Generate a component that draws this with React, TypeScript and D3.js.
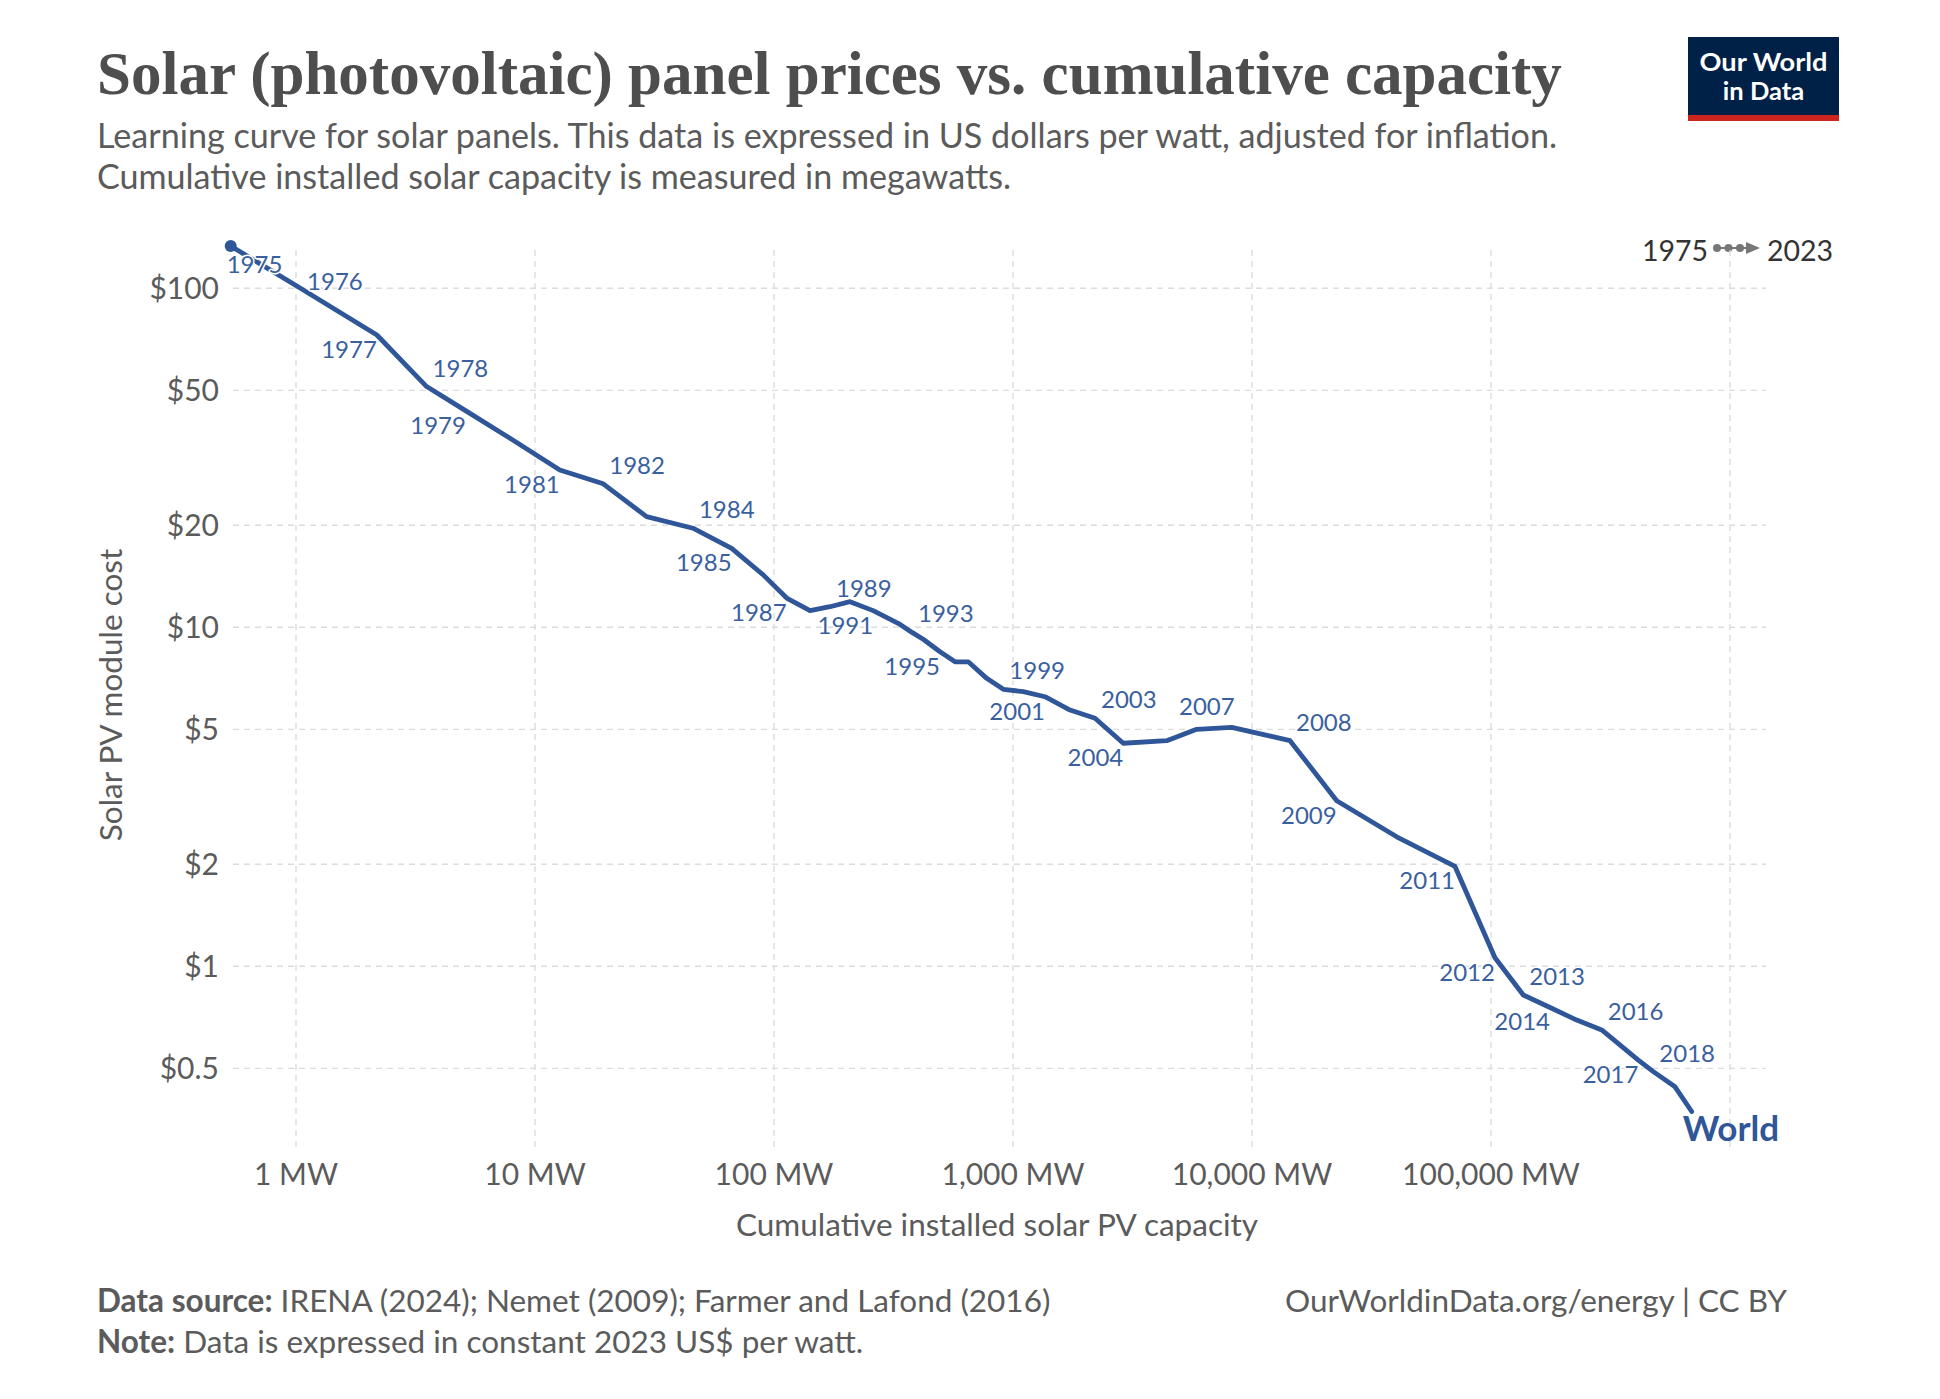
import React, { useLayoutEffect, useRef, useState } from "react";
import * as d3 from "d3";

const years = [1975,1976,1977,1978,1979,1980,1981,1982,1983,1984,1985,1986,1987,1988,1989,1990,1991,1992,1993,1994,1995,1996,1997,1998,1999,2000,2001,2002,2003,2004,2005,2006,2007,2008,2009,2010,2011,2012,2013,2014,2015,2016,2017,2018,2019,2020];
const capacityMW = [0.533,1.04,2.18,3.52,5.14,7.86,12.7,19.3,29.3,45.8,66.5,89.9,113,141.5,171.5,208,260,337,378,421,495,572,650,776,911,1104,1361,1732,2204,2893,4397,5870,8226,14420,22620,40310,70700,103900,136500,176600,228400,290600,413400,477700,588800,691300];
const priceUSD = [133.3,100.2,72.8,51.3,43.5,36.1,29.1,26.5,21.2,19.6,17.1,14.3,12.2,11.2,11.5,11.9,11.2,10.2,9.66,9.22,8.47,7.91,7.91,7.07,6.56,6.46,6.24,5.70,5.39,4.55,4.63,5.00,5.07,4.63,3.08,2.41,1.97,1.06,0.823,0.756,0.694,0.649,0.529,0.489,0.441,0.373];

const labelYears = [1975,1976,1977,1978,1979,1981,1982,1984,1985,1987,1989,1991,1993,1995,1999,2001,2003,2004,2007,2008,2009,2011,2012,2013,2014,2016,2017,2018];
const labelSides = ["below","right","bl","ar","bl","bl","ar","ar","bl","bl","ar","bl","ar","bl","ar","bl","ar","bl","al","ar","bl","bl","bl","ar","bl","ar","bl","ar"];

const yTicks = [100,50,20,10,5,2,1,0.5];
const yTickLabels = ["$100","$50","$20","$10","$5","$2","$1","$0.5"];
const xTicks = [1,10,100,1000,10000,100000,1000000];
const xTickLabels = ["1 MW","10 MW","100 MW","1,000 MW","10,000 MW","100,000 MW",""];

const title = "Solar (photovoltaic) panel prices vs. cumulative capacity";
const subtitle1 = "Learning curve for solar panels. This data is expressed in US dollars per watt, adjusted for inflation.";
const subtitle2 = "Cumulative installed solar capacity is measured in megawatts.";

const LINE = "#2f5698";
const LABEL = "#3a5f9f";
const GRAY = "#5b5b5b";
const FONT = "Lato, 'Noto Sans', sans-serif";
const TITLE_W = 1465;
const TITLE_FS = 62;

export default function App() {
  const titleRef = useRef<SVGTextElement>(null);
  const [tFit, setTFit] = useState({ fs: 56, vs: TITLE_FS / 56 });
  useLayoutEffect(() => {
    const el = titleRef.current;
    if (!el) return;
    const w = el.getComputedTextLength();
    if (w > 0) {
      const fs = tFit.fs * TITLE_W / w;
      if (Math.abs(fs - tFit.fs) > 0.05) setTFit({ fs, vs: TITLE_FS / fs });
    }
  }, [tFit]);

  const x = d3.scaleLog().domain([1, 1e6]).range([296, 1730]);
  const y = d3.scaleLog().domain([10, 1]).range([627.3, 966.3]);
  const pts = years.map((yr, i) => ({ yr, x: x(capacityMW[i]), y: y(priceUSD[i]) }));
  const line = d3.line<{ x: number; y: number }>().x(d => d.x).y(d => d.y);
  const last = pts[pts.length - 1];

  const labelPos = (side: string, p: { x: number; y: number }) => {
    switch (side) {
      case "ar": return { x: p.x + 6, y: p.y - 10, a: "start" };
      case "bl": return { x: p.x, y: p.y + 23, a: "end" };
      case "al": return { x: p.x + 3, y: p.y - 12, a: "end" };
      case "below": return { x: p.x - 4, y: p.y + 27, a: "start" };
      default: return { x: p.x + 7, y: p.y + 2, a: "start" };
    }
  };

  return (
    <svg width={1940} height={1399} style={{ position: "absolute", left: 0, top: 0, background: "#fff" }} fontFamily={FONT}>
      <rect x={0} y={0} width={1940} height={1399} fill="#fff" />
      {/* Title */}
      <g transform={`translate(97,94) scale(1,${tFit.vs})`}>
        <text ref={titleRef} x={0} y={0} fontFamily="'Liberation Serif', 'DejaVu Serif', serif" fontWeight={700} fontSize={tFit.fs} fill="#4e4e4e">{title}</text>
      </g>
      <text x={97} y={148} fontSize={34} fill={GRAY} textLength={1460} lengthAdjust="spacingAndGlyphs">{subtitle1}</text>
      <text x={97} y={189} fontSize={34} fill={GRAY} textLength={914} lengthAdjust="spacingAndGlyphs">{subtitle2}</text>

      {/* Logo */}
      <rect x={1688} y={37} width={151} height={84} fill="#002147" />
      <rect x={1688} y={115} width={151} height={6} fill="#ce261e" />
      <text x={1763.5} y={70.5} textAnchor="middle" fontWeight={700} fontSize={25.5} fill="#fff" textLength={128} lengthAdjust="spacingAndGlyphs">Our World</text>
      <text x={1763.5} y={100} textAnchor="middle" fontWeight={700} fontSize={25.5} fill="#fff">in Data</text>

      {/* Timeline legend */}
      <text x={1708} y={261} textAnchor="end" fontSize={28.5} fill="#333">1975</text>
      <line x1={1717} x2={1750} y1={248} y2={248} stroke="#777" strokeWidth={2} />
      {[1717, 1728.5, 1740].map((cx, i) => <circle key={i} cx={cx} cy={248} r={4} fill="#777" />)}
      <path d="M1746,242 L1760,248 L1746,254 Z" fill="#777" />
      <text x={1767} y={261} fontSize={28.5} fill="#333">2023</text>

      {/* Grid */}
      {yTicks.map((t, i) => (
        <g key={"y" + i}>
          <line x1={233} x2={1766} y1={y(t)} y2={y(t)} stroke="#dcdcdc" strokeWidth={1.4} strokeDasharray="6,5" />
          <text x={219} y={y(t)} dy="0.35em" textAnchor="end" fontSize={30} fill={GRAY}>{yTickLabels[i]}</text>
        </g>
      ))}
      {xTicks.map((t, i) => (
        <g key={"x" + i}>
          <line x1={x(t)} x2={x(t)} y1={250} y2={1150} stroke="#dcdcdc" strokeWidth={1.4} strokeDasharray="6,5" />
          <text x={x(t)} y={1185} textAnchor="middle" fontSize={30} fill={GRAY}>{xTickLabels[i]}</text>
        </g>
      ))}

      {/* Axis titles */}
      <text x={997} y={1236} textAnchor="middle" fontSize={31.5} fill={GRAY}>Cumulative installed solar PV capacity</text>
      <text transform="translate(122,695) rotate(-90)" textAnchor="middle" fontSize={31.5} fill={GRAY}>Solar PV module cost</text>

      {/* Line */}
      <path d={line(pts) || ""} fill="none" stroke={LINE} strokeWidth={4.8} strokeLinejoin="round" strokeLinecap="round" />
      <circle cx={pts[0].x} cy={pts[0].y} r={6} fill={LINE} />

      {/* Year labels */}
      {labelYears.map((yr, i) => {
        const p = pts.find(d => d.yr === yr)!;
        const lp = labelPos(labelSides[i], p);
        return (
          <text key={yr} x={lp.x} y={lp.y} textAnchor={lp.a as any} fontSize={24} fill={LABEL}
            stroke="#fff" strokeWidth={3} paintOrder="stroke" strokeLinejoin="round">{yr}</text>
        );
      })}
      <text x={last.x - 9} y={1141} fontSize={35} fontWeight={700} fill={LINE}>World</text>

      {/* Footer */}
      <text x={97} y={1312} fontSize={31.5} fill={GRAY}>
        <tspan fontWeight={700}>Data source:</tspan> IRENA (2024); Nemet (2009); Farmer and Lafond (2016)
      </text>
      <text x={97} y={1353} fontSize={31.5} fill={GRAY}>
        <tspan fontWeight={700}>Note:</tspan> Data is expressed in constant 2023 US$ per watt.
      </text>
      <text x={1787} y={1312} textAnchor="end" fontSize={31.5} fill={GRAY}>OurWorldinData.org/energy | CC BY</text>
    </svg>
  );
}
